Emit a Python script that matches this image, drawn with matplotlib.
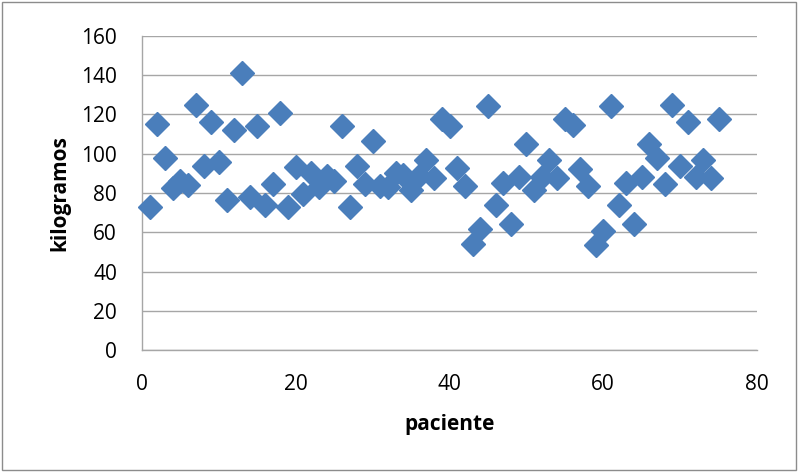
import matplotlib

matplotlib.use("Agg")
import matplotlib.pyplot as plt
from matplotlib.patches import Rectangle

# patient number -> body weight (kg)
PACIENTE = list(range(1, 76))
KILOGRAMOS = [
    73, 115, 98, 82.5, 86, 84, 125, 94, 116, 96,
    76.5, 112, 141, 78, 114, 74, 84.5, 121, 73, 93,
    79.5, 90, 83, 88.5, 86, 114, 73, 94, 84.5, 106.5,
    83.5, 83, 90, 89, 81.5, 88.5, 97, 87.5, 117.5, 114,
    92.5, 83.5, 54, 61.5, 124.5, 74, 85, 64, 88, 105,
    81.5, 88, 97, 87.5, 117.5, 114.5, 92, 83.5, 53.5, 60.5,
    124.5, 74, 85, 64, 88, 105, 98, 84.5, 125, 94,
    116, 88, 97, 87.5, 117.5,
]
X_TICKS = [0, 20, 40, 60, 80]
Y_TICKS = [0, 20, 40, 60, 80, 100, 120, 140, 160]

BLUE = "#4A7EBB"
GRID = "#A6A6A6"

plt.rcParams["font.family"] = ["Open Sans", "DejaVu Sans"]
fig = plt.figure(figsize=(7.98, 4.72), dpi=100)
ax = fig.add_axes([142 / 798, 1 - 350 / 472, (757 - 142) / 798, (350 - 36) / 472])

ax.plot(PACIENTE, KILOGRAMOS, linestyle="none", marker="D", ms=12.5,
        color=BLUE, markeredgecolor=BLUE, zorder=3, clip_on=False)

ax.set_xlim(0, 80)
ax.set_ylim(0, 160)
ax.set_xticks(X_TICKS)
ax.set_yticks(Y_TICKS)
ax.tick_params(axis="both", length=0, labelsize=15, colors="#000000")
ax.tick_params(axis="x", pad=17)
ax.tick_params(axis="y", pad=18)
ax.grid(True, axis="y", color=GRID, lw=1.0, zorder=0)
for s in ("top", "right"):
    ax.spines[s].set_visible(False)
for s in ("left", "bottom"):
    ax.spines[s].set_color(GRID)
    ax.spines[s].set_linewidth(1.0)

ax.set_xlabel("paciente", fontsize=15, fontweight="bold", labelpad=14)
ax.set_ylabel("kilogramos", fontsize=15, fontweight="bold", labelpad=8)

# thin grey frame round the whole chart
fig.patches.append(Rectangle((0.002, 0.004), 0.995, 0.992, transform=fig.transFigure,
                             fill=False, edgecolor="#8C8C8C", lw=1.0))

fig.savefig("out.png", dpi=100)
